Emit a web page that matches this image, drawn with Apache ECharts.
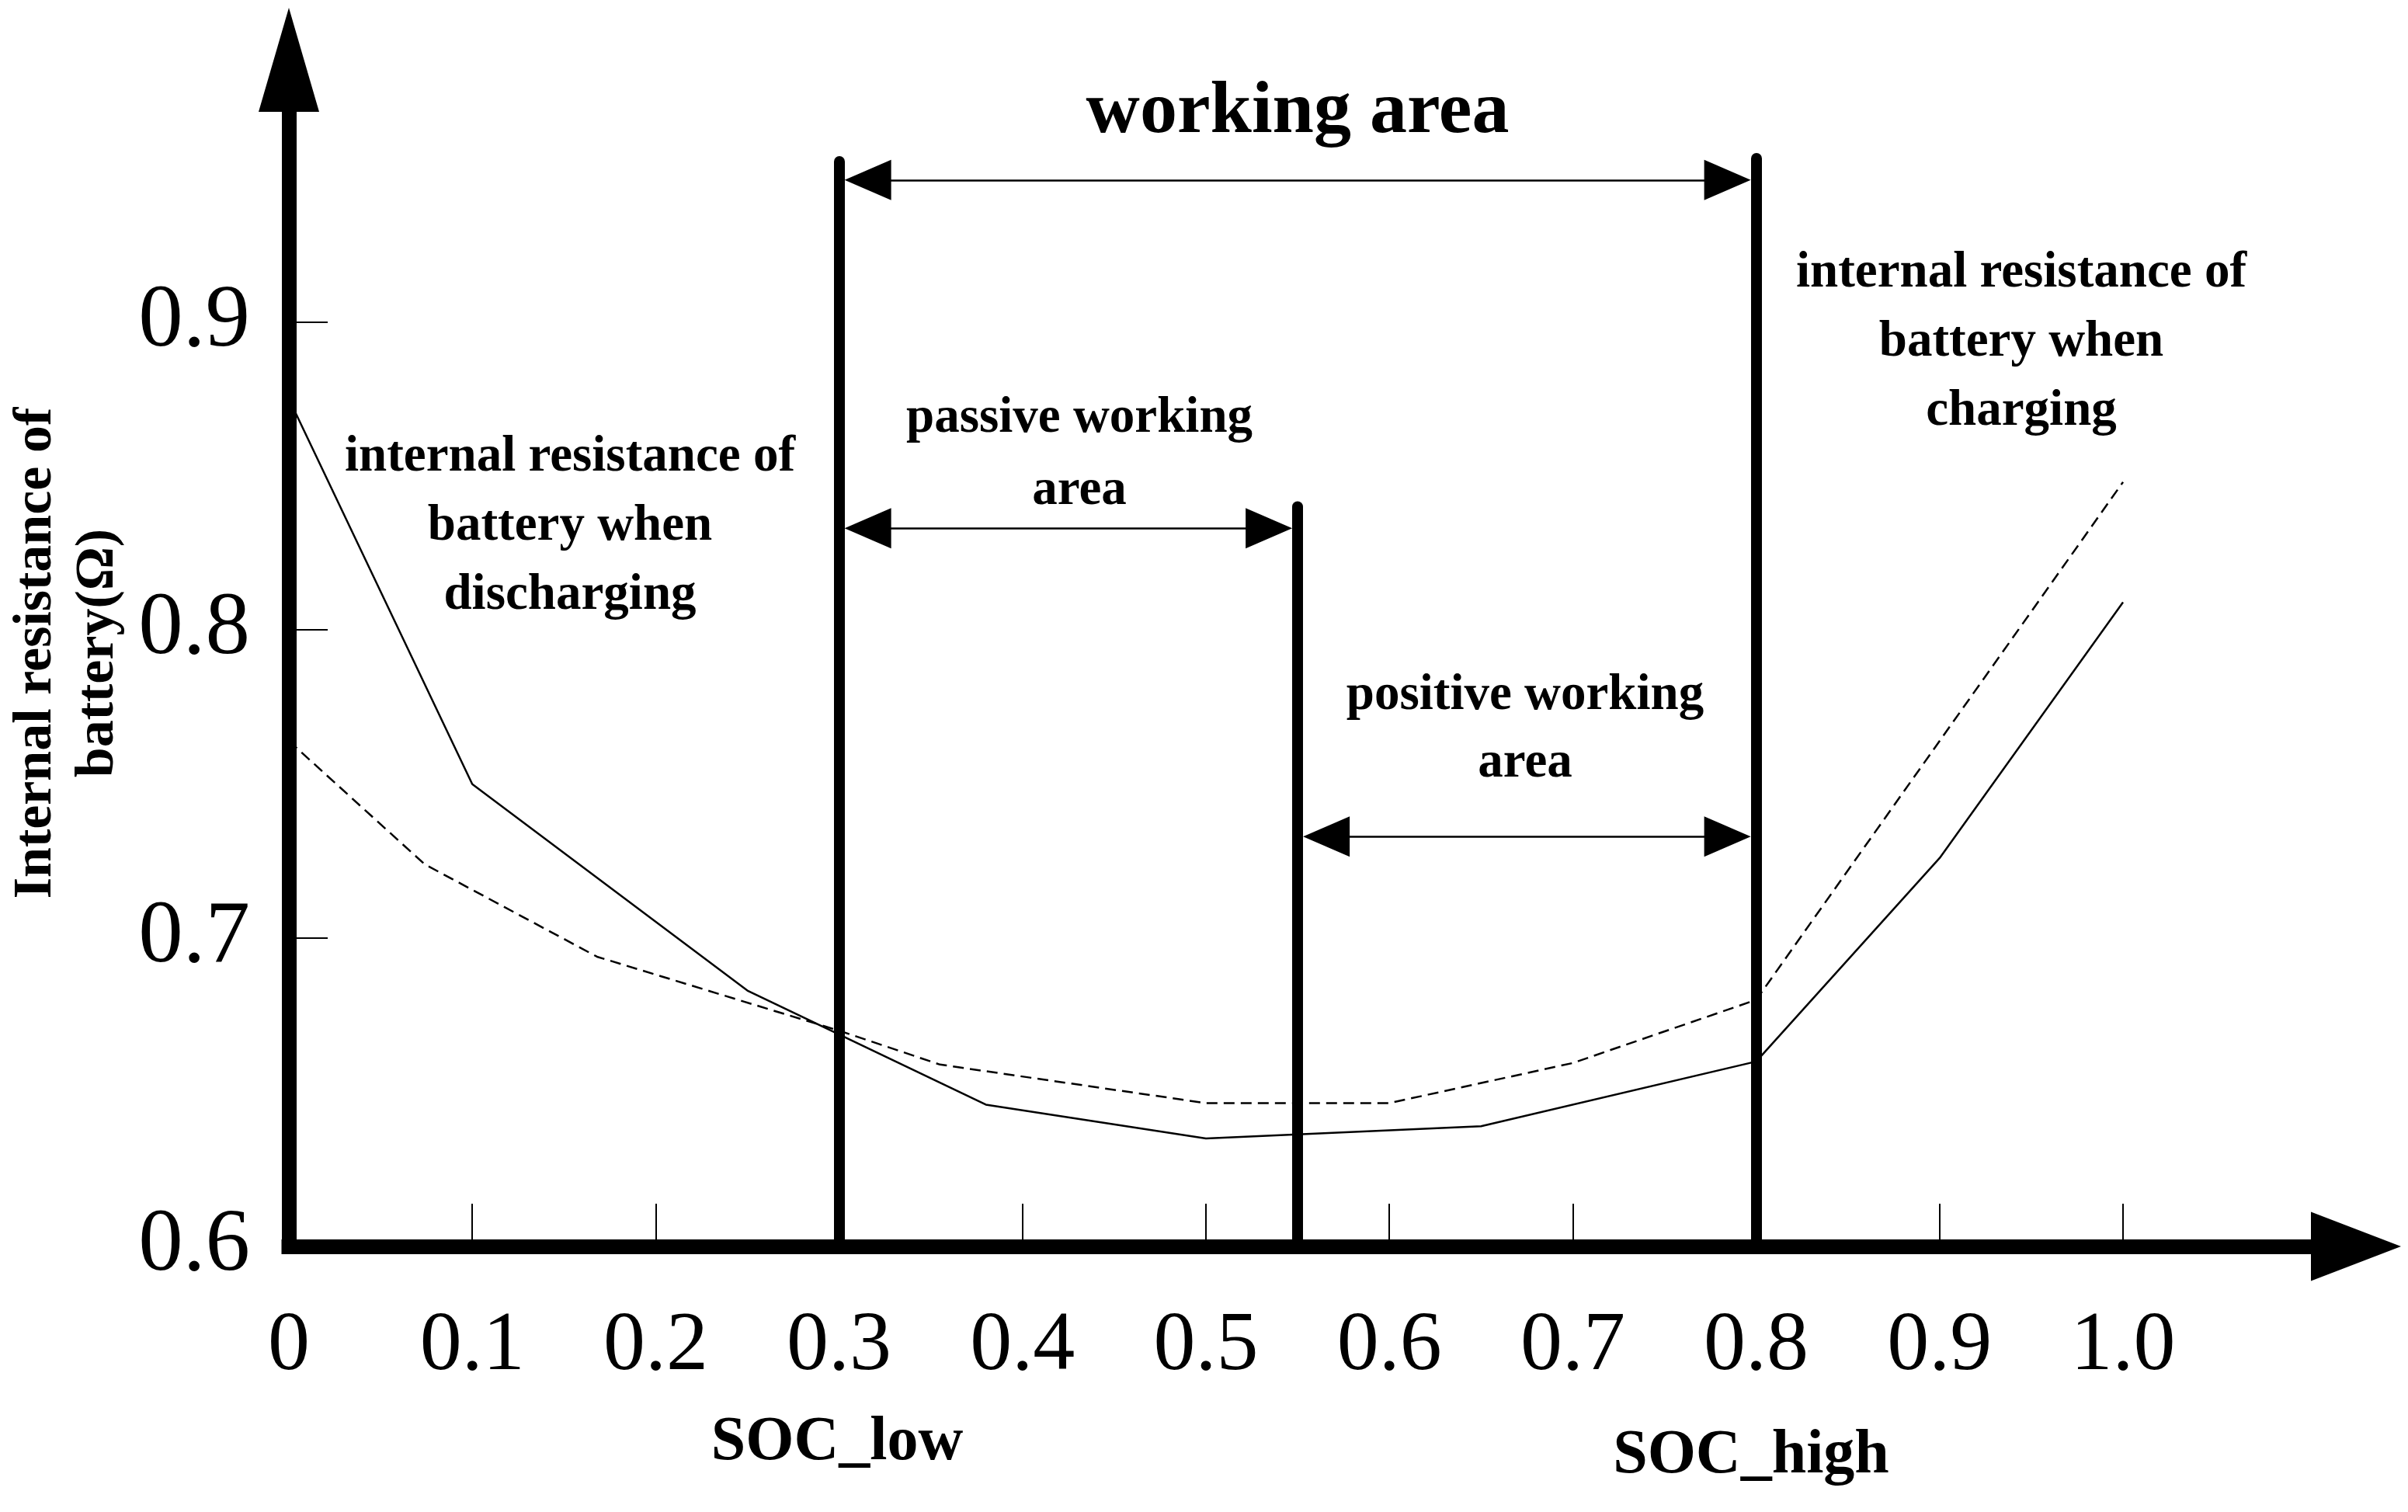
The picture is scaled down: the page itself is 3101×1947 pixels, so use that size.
<!DOCTYPE html>
<html>
<head>
<meta charset="utf-8">
<title>Internal resistance of battery vs SOC</title>
<script src="https://cdn.jsdelivr.net/npm/echarts@6/dist/echarts.min.js"></script>
<style>
  html, body { margin: 0; padding: 0; background: #fff; }
  #chart { width: 3101px; height: 1947px; }
</style>
</head>
<body>
<div id="chart"></div>
<script>
// axis ticks
const socTicks = [0, 0.1, 0.2, 0.3, 0.4, 0.5, 0.6, 0.7, 0.8, 0.9, 1.0]
const socTickLabels = ['0', '0.1', '0.2', '0.3', '0.4', '0.5', '0.6', '0.7', '0.8', '0.9', '1.0']
const resTicks = [0.6, 0.7, 0.8, 0.9]
const resTickLabels = ['0.6', '0.7', '0.8', '0.9']

// discharging curve (solid)
const dischargeSoc = [0, 0.1, 0.25, 0.38, 0.5, 0.65, 0.8, 0.9, 1.0]
const dischargeRes = [0.875, 0.750, 0.683, 0.646, 0.635, 0.639, 0.660, 0.726, 0.809]

// charging curve (dashed)
const chargeSoc = [0, 0.074, 0.168, 0.3, 0.355, 0.5, 0.6, 0.7, 0.8, 1.0]
const chargeRes = [0.764, 0.724, 0.694, 0.670, 0.659, 0.6465, 0.6465, 0.6595, 0.680, 0.848]

// working area boundaries and their heights
const boundarySoc = [0.3, 0.55, 0.8]
const boundaryTop = [0.952, 0.840, 0.953]
// double arrows: [from, to, level]
const spans = [
  [0.3, 0.8, 0.946],   // working area
  [0.3, 0.55, 0.833],  // passive
  [0.55, 0.8, 0.733],  // positive
]

const xMax = 1.127
const yMin = 0.6
const yMax = 0.985
const gridL = 372, gridR = 67, gridT = 77, gridB = 342
const pxPerX = (3101 - gridL - gridR) / xMax
const arrowLen = 60
const inset = (7 + arrowLen / 2) / pxPerX

const font = '"Liberation Serif", "Times New Roman", serif'

const chart = echarts.init(document.getElementById('chart'), null, { renderer: 'canvas' })

function zip(xs, ys) {
  return xs.map((x, i) => [x, ys[i]])
}

function boldText(text, x, y, size, lh) {
  return {
    type: 'text',
    x: x,
    y: y,
    silent: true,
    style: {
      text: text,
      fill: '#000',
      font: 'bold ' + size + 'px ' + font,
      lineHeight: lh || size,
      align: 'center',
      verticalAlign: 'middle',
    },
  }
}

const option = {
  backgroundColor: '#fff',
  animation: false,
  grid: {
    left: gridL, right: gridR, top: gridT, bottom: gridB,
    containLabel: false,
    outerBoundsMode: 'none',
  },
  xAxis: {
    type: 'value',
    min: 0,
    max: xMax,
    splitLine: { show: false },
    axisLine: {
      show: true,
      symbol: ['none', 'triangle'],
      symbolSize: [89, 116],
      lineStyle: { color: '#000', width: 19, cap: 'square' },
    },
    axisTick: {
      show: true,
      inside: true,
      length: 55,
      customValues: socTicks,
      lineStyle: { color: '#000', width: 2 },
    },
    axisLabel: {
      customValues: socTicks,
      margin: 76,
      color: '#000',
      fontFamily: font,
      fontSize: 108,
      formatter: (v) => socTickLabels[socTicks.findIndex(t => Math.abs(t - v) < 1e-6)],
    },
  },
  yAxis: {
    type: 'value',
    min: yMin,
    max: yMax,
    splitLine: { show: false },
    name: 'Internal resistance of\nbattery(Ω)',
    nameLocation: 'middle',
    nameRotate: 90,
    nameGap: 176,
    nameTextStyle: {
      color: '#000',
      fontFamily: font,
      fontWeight: 'bold',
      fontSize: 70,
      lineHeight: 80,
    },
    axisLine: {
      show: true,
      symbol: ['none', 'triangle'],
      symbolSize: [78, 134],
      lineStyle: { color: '#000', width: 19, cap: 'square' },
    },
    axisTick: {
      show: true,
      inside: true,
      length: 50,
      customValues: resTicks,
      lineStyle: { color: '#000', width: 2 },
    },
    axisLabel: {
      customValues: resTicks,
      margin: 50,
      color: '#000',
      fontFamily: font,
      fontSize: 115,
      formatter: (v) => resTickLabels[resTicks.findIndex(t => Math.abs(t - v) < 1e-6)],
    },
  },
  series: [
    {
      name: 'discharging',
      type: 'line',
      data: zip(dischargeSoc, dischargeRes),
      showSymbol: false,
      silent: true,
      lineStyle: { color: '#000', width: 2.5 },
    },
    {
      name: 'charging',
      type: 'line',
      data: zip(chargeSoc, chargeRes),
      showSymbol: false,
      silent: true,
      lineStyle: { color: '#000', width: 2.5, type: [14, 8] },
    },
    {
      // SOC_low / middle / SOC_high boundaries
      type: 'line',
      data: [],
      markLine: {
        silent: true,
        symbol: ['none', 'none'],
        label: { show: false },
        lineStyle: { color: '#000', width: 14, type: 'solid', cap: 'round' },
        data: boundarySoc.map((s, i) => [
          { coord: [s, yMin] },
          { coord: [s, boundaryTop[i]] },
        ]),
      },
    },
    {
      // double arrows between the boundaries
      type: 'line',
      data: [],
      markLine: {
        silent: true,
        symbol: ['triangle', 'triangle'],
        symbolSize: [52, arrowLen],
        label: { show: false },
        lineStyle: { color: '#000', width: 2.5, type: 'solid' },
        data: spans.map(s => [
          { coord: [s[0] + inset, s[2]] },
          { coord: [s[1] - inset, s[2]] },
        ]),
      },
    },
  ],
  graphic: [
    boldText('working area', 1671, 145, 96),
    boldText('passive working\narea', 1390, 586, 65, 93),
    boldText('internal resistance of\nbattery when\ndischarging', 734, 678, 65, 89),
    boldText('positive working\narea', 1964, 940, 65, 87),
    boldText('internal resistance of\nbattery when\ncharging', 2603, 441, 65, 89),
    boldText('SOC_low', 1078, 1858, 80),
    boldText('SOC_high', 2255, 1875, 80),
  ],
}

chart.setOption(option)
</script>
</body>
</html>
